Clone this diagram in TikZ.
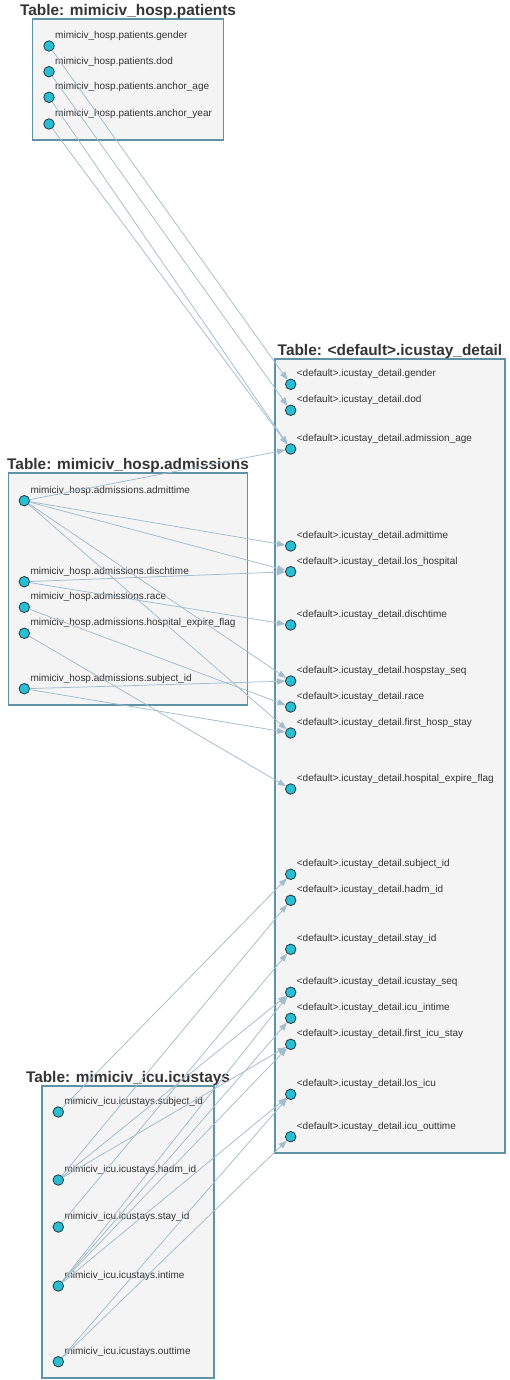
\documentclass[tikz,border=0pt]{standalone}
\usepackage{fontspec}
\setmainfont{Liberation Sans}
\usetikzlibrary{arrows.meta,positioning}
\definecolor{boxline}{RGB}{96,146,166}
\definecolor{boxfill}{RGB}{244,244,244}
\definecolor{dotfill}{RGB}{42,190,211}
\definecolor{dotline}{RGB}{32,56,66}
\definecolor{linkcol}{RGB}{160,188,205}
\definecolor{txt}{RGB}{51,51,51}

\begin{document}
\begin{tikzpicture}[x=1pt,y=-1pt,
    tbl/.style={draw=boxline, line width=1.1pt, fill=boxfill, inner sep=0pt},
    ttl/.style={anchor=base, text=txt, font=\fontsize{15.4}{18}\selectfont\bfseries, inner sep=0pt},
    col/.style={circle, draw=dotline, fill=dotfill, line width=0.8pt, minimum size=10.5pt, inner sep=0pt},
    lbl/.style={anchor=base west, text=txt, font=\fontsize{10}{12}\selectfont, inner sep=0pt},
    link/.style={draw=linkcol, line width=0.75pt, -{Triangle[length=8pt,width=6pt]}}
    ]
    \useasboundingbox (0,0) rectangle (509,1380);

    % tables
    \node[tbl, minimum width=191pt, minimum height=121pt] (pat) at (128,79.5) {};
    \node[ttl] (pat-t) at ([yshift=3pt]pat.north) {Table: mimiciv\_hosp.patients};
    \node[tbl, minimum width=230pt, minimum height=794pt] (det) at (390,756) {};
    \node[ttl] (det-t) at ([yshift=3pt]det.north) {Table: <default>.icustay\_detail};
    \node[tbl, minimum width=239pt, minimum height=232pt] (adm) at (128,589) {};
    \node[ttl] (adm-t) at ([yshift=3pt]adm.north) {Table: mimiciv\_hosp.admissions};
    \node[tbl, minimum width=172pt, minimum height=292pt] (icu) at (128,1232) {};
    \node[ttl] (icu-t) at ([yshift=3pt]icu.north) {Table: mimiciv\_icu.icustays};

    % patients columns
    \node[col] (pat-gender) at (49,46) {};
    \node[lbl] (pat-gender-l) at (55,38.5) {mimiciv\_hosp.patients.gender};
    \node[col] (pat-dod) at (49,71.7) {};
    \node[lbl] (pat-dod-l) at (55,64.2) {mimiciv\_hosp.patients.dod};
    \node[col] (pat-age) at (49,97.3) {};
    \node[lbl] (pat-age-l) at (55,89.8) {mimiciv\_hosp.patients.anchor\_age};
    \node[col] (pat-year) at (49,124) {};
    \node[lbl] (pat-year-l) at (55,116.5) {mimiciv\_hosp.patients.anchor\_year};

    % admissions columns
    \node[col] (adm-admit) at (24.3,500.7) {};
    \node[lbl] (adm-admit-l) at (30.3,493.2) {mimiciv\_hosp.admissions.admittime};
    \node[col] (adm-disch) at (24.3,581.7) {};
    \node[lbl] (adm-disch-l) at (30.3,574.2) {mimiciv\_hosp.admissions.dischtime};
    \node[col] (adm-race) at (24.3,607.3) {};
    \node[lbl] (adm-race-l) at (30.3,599.8) {mimiciv\_hosp.admissions.race};
    \node[col] (adm-flag) at (24.3,633.3) {};
    \node[lbl] (adm-flag-l) at (30.3,625.8) {mimiciv\_hosp.admissions.hospital\_expire\_flag};
    \node[col] (adm-subj) at (24.3,688.7) {};
    \node[lbl] (adm-subj-l) at (30.3,681.2) {mimiciv\_hosp.admissions.subject\_id};

    % icustays columns
    \node[col] (icu-subj) at (58.3,1112) {};
    \node[lbl] (icu-subj-l) at (64.3,1104.5) {mimiciv\_icu.icustays.subject\_id};
    \node[col] (icu-hadm) at (58.3,1180) {};
    \node[lbl] (icu-hadm-l) at (64.3,1172.5) {mimiciv\_icu.icustays.hadm\_id};
    \node[col] (icu-stay) at (58.3,1227) {};
    \node[lbl] (icu-stay-l) at (64.3,1219.5) {mimiciv\_icu.icustays.stay\_id};
    \node[col] (icu-in) at (58.3,1286) {};
    \node[lbl] (icu-in-l) at (64.3,1278.5) {mimiciv\_icu.icustays.intime};
    \node[col] (icu-out) at (58.3,1361.7) {};
    \node[lbl] (icu-out-l) at (64.3,1354.2) {mimiciv\_icu.icustays.outtime};

    % icustay_detail columns
    \node[col] (det-gender) at (290.7,384.3) {};
    \node[lbl] (det-gender-l) at (296.7,376.8) {<default>.icustay\_detail.gender};
    \node[col] (det-dod) at (290.7,410.3) {};
    \node[lbl] (det-dod-l) at (296.7,402.8) {<default>.icustay\_detail.dod};
    \node[col] (det-age) at (290.7,449) {};
    \node[lbl] (det-age-l) at (296.7,441.5) {<default>.icustay\_detail.admission\_age};
    \node[col] (det-admit) at (290.7,546) {};
    \node[lbl] (det-admit-l) at (296.7,538.5) {<default>.icustay\_detail.admittime};
    \node[col] (det-loshosp) at (290.7,571.7) {};
    \node[lbl] (det-loshosp-l) at (296.7,564.2) {<default>.icustay\_detail.los\_hospital};
    \node[col] (det-disch) at (290.7,625) {};
    \node[lbl] (det-disch-l) at (296.7,617.5) {<default>.icustay\_detail.dischtime};
    \node[col] (det-hseq) at (290.7,681) {};
    \node[lbl] (det-hseq-l) at (296.7,673.5) {<default>.icustay\_detail.hospstay\_seq};
    \node[col] (det-race) at (290.7,707) {};
    \node[lbl] (det-race-l) at (296.7,699.5) {<default>.icustay\_detail.race};
    \node[col] (det-fhosp) at (290.7,733) {};
    \node[lbl] (det-fhosp-l) at (296.7,725.5) {<default>.icustay\_detail.first\_hosp\_stay};
    \node[col] (det-flag) at (290.7,789) {};
    \node[lbl] (det-flag-l) at (296.7,781.5) {<default>.icustay\_detail.hospital\_expire\_flag};
    \node[col] (det-subj) at (290.7,874.3) {};
    \node[lbl] (det-subj-l) at (296.7,866.8) {<default>.icustay\_detail.subject\_id};
    \node[col] (det-hadm) at (290.7,900.3) {};
    \node[lbl] (det-hadm-l) at (296.7,892.8) {<default>.icustay\_detail.hadm\_id};
    \node[col] (det-stay) at (290.7,949.3) {};
    \node[lbl] (det-stay-l) at (296.7,941.8) {<default>.icustay\_detail.stay\_id};
    \node[col] (det-iseq) at (290.7,992.3) {};
    \node[lbl] (det-iseq-l) at (296.7,984.8) {<default>.icustay\_detail.icustay\_seq};
    \node[col] (det-in) at (290.7,1018.3) {};
    \node[lbl] (det-in-l) at (296.7,1010.8) {<default>.icustay\_detail.icu\_intime};
    \node[col] (det-ficu) at (290.7,1044.3) {};
    \node[lbl] (det-ficu-l) at (296.7,1036.8) {<default>.icustay\_detail.first\_icu\_stay};
    \node[col] (det-losicu) at (290.7,1094.3) {};
    \node[lbl] (det-losicu-l) at (296.7,1086.8) {<default>.icustay\_detail.los\_icu};
    \node[col] (det-out) at (290.7,1136.7) {};
    \node[lbl] (det-out-l) at (296.7,1129.2) {<default>.icustay\_detail.icu\_outtime};

    % lineage
    \draw[link] (pat-gender) -- (det-gender);
    \draw[link] (pat-dod) -- (det-dod);
    \draw[link] (pat-age) -- (det-age);
    \draw[link] (pat-year) -- (det-age);
    \draw[link] (adm-admit) -- (det-age);
    \draw[link] (adm-admit) -- (det-admit);
    \draw[link] (adm-admit) -- (det-loshosp);
    \draw[link] (adm-admit) -- (det-hseq);
    \draw[link] (adm-admit) -- (det-fhosp);
    \draw[link] (adm-disch) -- (det-loshosp);
    \draw[link] (adm-disch) -- (det-disch);
    \draw[link] (adm-race) -- (det-race);
    \draw[link] (adm-flag) -- (det-flag);
    \draw[link] (adm-subj) -- (det-hseq);
    \draw[link] (adm-subj) -- (det-fhosp);
    \draw[link] (icu-subj) -- (det-subj);
    \draw[link] (icu-hadm) -- (det-hadm);
    \draw[link] (icu-hadm) -- (det-iseq);
    \draw[link] (icu-hadm) -- (det-ficu);
    \draw[link] (icu-stay) -- (det-stay);
    \draw[link] (icu-in) -- (det-iseq);
    \draw[link] (icu-in) -- (det-in);
    \draw[link] (icu-in) -- (det-ficu);
    \draw[link] (icu-in) -- (det-losicu);
    \draw[link] (icu-out) -- (det-losicu);
    \draw[link] (icu-out) -- (det-out);
  \end{tikzpicture}
\end{document}
